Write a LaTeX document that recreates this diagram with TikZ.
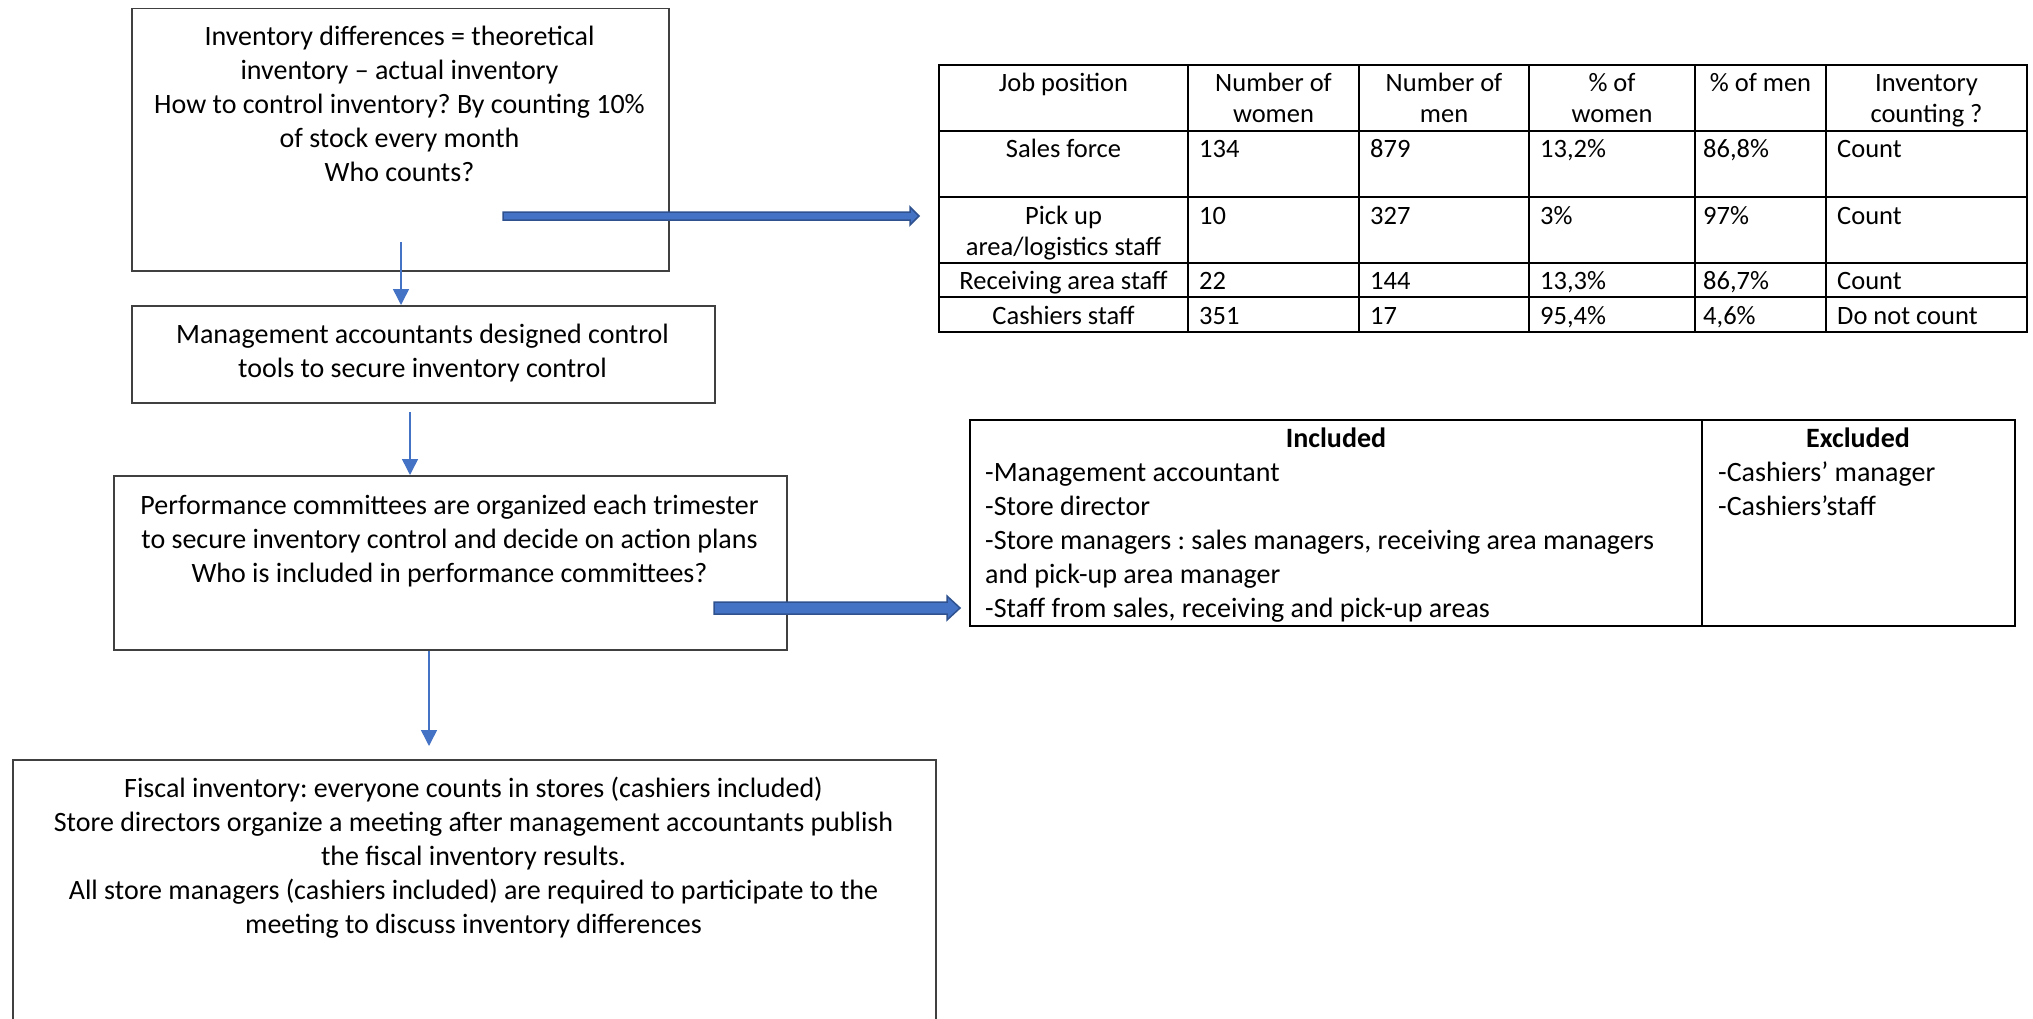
\documentclass[tikz,border=0pt]{standalone}
\usepackage{fontspec}
\setmainfont{Carlito}
\usetikzlibrary{arrows.meta,calc}
\definecolor{obl}{HTML}{4472C4}
\definecolor{obd}{HTML}{2F528F}
\definecolor{bx}{HTML}{404040}
\frenchspacing
\begin{document}
\begin{tikzpicture}[x=1pt,y=-1pt,
  box/.style={draw=bx, line width=1.5pt, rectangle, inner sep=0pt, anchor=north west},
  txt/.style={font=\fontsize{28}{34}\selectfont, align=center, inner sep=0pt, anchor=north},
  ltxt/.style={font=\fontsize{28}{34}\selectfont, align=left, inner sep=0pt, anchor=north west},
  btxt/.style={font=\fontsize{28}{34}\selectfont\bfseries, inner sep=0pt, anchor=north},
  ttxt/.style={font=\fontsize{26.5}{31}\selectfont, align=center, inner sep=0pt, anchor=north},
  tltxt/.style={font=\fontsize{26.5}{31}\selectfont, align=left, inner sep=0pt, anchor=north west},
  flow/.style={draw=obl, line width=1.5pt, -{Triangle[length=16pt,width=16pt]}},
  fat/.style={fill=obl, draw=obd, line width=1.5pt, line join=miter},
  tab/.style={line width=2.5pt, draw=black}]
\useasboundingbox (0,0) rectangle (2033,1019);
\fill[white] (0,0) rectangle (2033,1019);

% flow boxes
\node[box, minimum width=537pt, minimum height=262pt] (b1) at (131,8) {};
\node[box, minimum width=583pt, minimum height=97pt] (b2) at (131,305) {};
\node[box, minimum width=673pt, minimum height=174pt] (b3) at (113,475) {};
\begin{scope}
\clip (0,0) rectangle (2033,1019);
\node[box, minimum width=923pt, minimum height=300pt] (b4) at (12,759) {};
\end{scope}

\node[txt] (b1t) at (399.5,21.5) {\strut Inventory differences = theoretical\\ inventory – actual inventory\\ How to control inventory? By counting 10\%\\ of stock every month\\ Who counts?};
\node[txt] (b2t) at (422.5,319) {\strut Management accountants designed control\\ tools to secure inventory control};
\node[txt] (b3t) at (449.5,490) {\strut Performance committees are organized each trimester\\ to secure inventory control and decide on action plans\\ Who is included in performance committees?};
\node[txt] (b4t) at (473.5,773) {\strut Fiscal inventory: everyone counts in stores (cashiers included)\\ Store directors organize a meeting after management accountants publish\\ the fiscal inventory results.\\ All store managers (cashiers included) are required to participate to the\\ meeting to discuss inventory differences};

% thin arrows
\coordinate (a1s) at (401,242);
\coordinate (a2s) at (410,412);
\coordinate (a3e) at (429,746);
\draw[flow] (a1s) -- (a1s |- b2.north);
\draw[flow] (a2s) -- (a2s |- b3.north);
\draw[flow] (a3e |- b3.south) -- (a3e);

% table 1
\draw[tab] (939,65) rectangle (2027,332);
\foreach \yy in {131,197,263,297} \draw[tab] (939,\yy) -- (2027,\yy);
\foreach \xx in {1188,1359,1529,1695,1826} \draw[tab] (\xx,65) -- (\xx,332);

\node[ttxt] (h1) at (1063.5,69.5) {\strut Job position};
\node[ttxt] (h2) at (1273.5,69.5) {\strut Number of\\ women};
\node[ttxt] (h3) at (1444,69.5) {\strut Number of\\ men};
\node[ttxt] (h4) at (1612,69.5) {\strut \% of\\ women};
\node[ttxt] (h5) at (1760.5,69.5) {\strut \% of men};
\node[ttxt] (h6) at (1926.5,69.5) {\strut Inventory\\ counting ?};

\node[ttxt] (r1a) at (1063.5,135.5) {\strut Sales force};
\node[tltxt] (r1b) at (1199,135.5) {\strut 134};
\node[tltxt] (r1c) at (1370,135.5) {\strut 879};
\node[tltxt] (r1d) at (1540,135.5) {\strut 13,2\%};
\node[tltxt] (r1e) at (1703,135.5) {\strut 86,8\%};
\node[tltxt] (r1f) at (1837,135.5) {\strut Count};

\node[ttxt] (r2a) at (1063.5,202.5) {\strut Pick up\\ area/logistics staff};
\node[tltxt] (r2b) at (1199,202.5) {\strut 10};
\node[tltxt] (r2c) at (1370,202.5) {\strut 327};
\node[tltxt] (r2d) at (1540,202.5) {\strut 3\%};
\node[tltxt] (r2e) at (1703,202.5) {\strut 97\%};
\node[tltxt] (r2f) at (1837,202.5) {\strut Count};

\node[ttxt] (r3a) at (1063.5,267.5) {\strut Receiving area staff};
\node[tltxt] (r3b) at (1199,267.5) {\strut 22};
\node[tltxt] (r3c) at (1370,267.5) {\strut 144};
\node[tltxt] (r3d) at (1540,267.5) {\strut 13,3\%};
\node[tltxt] (r3e) at (1703,267.5) {\strut 86,7\%};
\node[tltxt] (r3f) at (1837,267.5) {\strut Count};

\node[ttxt] (r4a) at (1063.5,302.5) {\strut Cashiers staff};
\node[tltxt] (r4b) at (1199,302.5) {\strut 351};
\node[tltxt] (r4c) at (1370,302.5) {\strut 17};
\node[tltxt] (r4d) at (1540,302.5) {\strut 95,4\%};
\node[tltxt] (r4e) at (1703,302.5) {\strut 4,6\%};
\node[tltxt] (r4f) at (1837,302.5) {\strut Do not count};

% table 2
\draw[tab] (970,420) rectangle (2015,626);
\draw[tab] (1702,420) -- (1702,626);
\node[btxt] (inc) at (1336,423.5) {\strut Included};
\node[btxt] (exc) at (1858,423.5) {\strut Excluded};
\node[ltxt] (incl) at (985,457.5) {\strut -Management accountant\\ -Store director\\ -Store managers : sales managers, receiving area managers\\ and pick-up area manager\\ -Staff from sales, receiving and pick-up areas};
\node[ltxt] (excl) at (1718,457.5) {\strut -Cashiers’ manager\\ -Cashiers’staff};

% block arrows
\coordinate (t1s) at (503,216);
\coordinate (t1e) at (919,216);
\draw[fat] ($(t1s)+(0,-4)$) -- ($(t1e)+(-9,-4)$) -- ($(t1e)+(-9,-9)$) -- (t1e) -- ($(t1e)+(-9,9)$) -- ($(t1e)+(-9,4)$) -- ($(t1s)+(0,4)$) -- cycle;
\coordinate (t2s) at (714,608);
\coordinate (t2e) at (960,608);
\draw[fat] ($(t2s)+(0,-6)$) -- ($(t2e)+(-13,-6)$) -- ($(t2e)+(-13,-12)$) -- (t2e) -- ($(t2e)+(-13,12)$) -- ($(t2e)+(-13,6)$) -- ($(t2s)+(0,6)$) -- cycle;
\end{tikzpicture}
\end{document}
